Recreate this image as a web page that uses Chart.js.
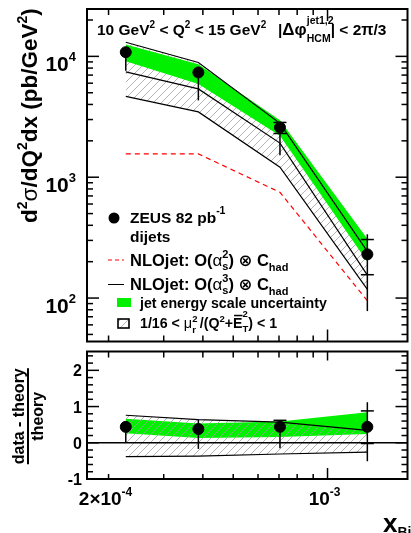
<!DOCTYPE html>
<html>
<head>
<meta charset="utf-8">
<script src="https://cdn.jsdelivr.net/npm/chart.js@4/dist/chart.umd.min.js"></script>
<style>
  html, body { margin: 0; padding: 0; background: #fff; overflow: hidden; }
  #wrap { position: relative; width: 411px; height: 533px; overflow: hidden; }
  canvas { position: absolute; left: 0; }
  #top { top: 0; }
  #bot { top: 345px; }
</style>
</head>
<body>
<div id="wrap">
  <canvas id="top" width="414" height="348"></canvas>
  <canvas id="bot" width="414" height="188"></canvas>
</div>
<script>
(function () {
    "use strict";

    // data
    const xBj = [2.27e-4, 3.87e-4, 7.05e-4, 1.34e-3];

    const zeus = [10830, 7360, 2580, 230];
    const zeusTotLo = [7590, 4320, 1520, 78];
    const zeusTotHi = [11600, 7900, 2840, 337];
    const zeusStatLo = [null, null, 2300, 156];
    const zeusStatHi = [null, null, 2840, 305];

    const nloAs2 = [1560, 1560, 750, 95];
    const nloAs3 = [7450, 5380, 1915, 155];
    const nloScaleHi = [13090, 8890, 2790, 243];
    const nloScaleLo = [4660, 3470, 1210, 118];
    const jesHi = [12530, 8600, 2965, 309];
    const jesLo = [9100, 5900, 2200, 200];

    const ratio = [0.44, 0.38, 0.44, 0.44];
    const ratioTotLo = [0.0, -0.17, -0.15, -0.51];
    const ratioTotHi = [0.56, 0.64, 0.62, 1.12];
    const ratioStatLo = [null, null, null, -0.02];
    const ratioStatHi = [null, null, 0.62, 0.88];
    const ratioJesHi = [0.66, 0.53, 0.59, 0.84];
    const ratioJesLo = [0.26, 0.13, 0.16, 0.24];
    const ratioScaleHi = [0.76, 0.64, 0.57, 0.34];
    const ratioScaleLo = [-0.38, -0.37, -0.31, -0.26];

    const yTopTicks = [100, 1000, 10000];
    const yTopExp = ["2", "3", "4"];
    const yRatioTicks = [2, 1, 0, -1];

    const xRange = [1.707e-4, 1.8e-3];
    const yRange = [43.7, 24660];
    const rRange = [-1, 2.52];

    const GREEN = "#00f000";
    const fam = '"Liberation Sans", Arial, "DejaVu Sans", sans-serif';
    const font = (s, w) => (w || "bold") + " " + s + "px " + fam;

    const pts = (ys) => xBj.map((x, i) => ({ x: x, y: ys[i] }));

    function hatch(ctx) {
        const c = document.createElement("canvas");
        c.width = 8; c.height = 8;
        const g = c.getContext("2d");
        g.strokeStyle = "#a0a0a0";
        g.lineWidth = 0.8;
        g.beginPath();
        g.moveTo(0, 8); g.lineTo(8, 0);
        g.moveTo(-4, 4); g.lineTo(4, -4);
        g.moveTo(4, 12); g.lineTo(12, 4);
        g.stroke();
        return ctx.createPattern(c, "repeat");
    }

    function line(ctx, x1, y1, x2, y2) {
        ctx.beginPath();
        ctx.moveTo(x1, y1);
        ctx.lineTo(x2, y2);
        ctx.stroke();
    }

    // text with super/subscripts: parts {t, s, dy, w, keep, bar}
    function rich(ctx, x, y, parts, measureOnly) {
        const x0 = x;
        parts.forEach(p => {
            ctx.font = font(p.s, p.w);
            const w = ctx.measureText(p.t).width;
            if (!measureOnly) {
                ctx.fillText(p.t, x, y + (p.dy || 0));
                if (p.bar) ctx.fillRect(x + 1, y + (p.dy || 0) - p.s * 0.72 - 3, w - 1, 1.5);
            }
            if (!p.keep) x += w;
        });
        return x - x0;
    }

    function logVals(min, max) {
        const out = [];
        for (let e = -6; e <= 6; e++) {
            for (let m = 1; m <= 9; m++) {
                const v = m * Math.pow(10, e);
                if (v >= min && v <= max) out.push([v, m === 1]);
            }
        }
        return out;
    }

    function drawErrors(chart, lo, hi, sLo, sHi) {
        const { ctx, scales: { x, y } } = chart;
        ctx.save();
        ctx.strokeStyle = "#000";
        ctx.lineWidth = 1.5;
        xBj.forEach((xv, i) => {
            const px = x.getPixelForValue(xv);
            line(ctx, px, y.getPixelForValue(lo[i]), px, y.getPixelForValue(hi[i]));
            [sLo[i], sHi[i]].forEach(v => {
                if (v !== null) {
                    const py = y.getPixelForValue(v);
                    line(ctx, px - 6.5, py, px + 6.5, py);
                }
            });
        });
        ctx.restore();
    }

    function xTicks(ctx, x, a, topLen, botLen) {
        logVals(xRange[0], xRange[1]).forEach(([v, major]) => {
            const px = x.getPixelForValue(v);
            line(ctx, px, a.top, px, a.top + (major ? topLen[1] : topLen[0]));
            line(ctx, px, a.bottom, px, a.bottom - (major ? botLen[1] : botLen[0]));
        });
    }

    const topDeco = {
        id: "topDeco",
        afterDatasetsDraw(chart) {
            drawErrors(chart, zeusTotLo, zeusTotHi, zeusStatLo, zeusStatHi);
        },
        afterDraw(chart) {
            const { ctx, chartArea: a, scales: { x, y } } = chart;
            ctx.save();
            ctx.strokeStyle = "#000";
            ctx.fillStyle = "#000";
            ctx.lineWidth = 1.5;

            // ticks
            logVals(yRange[0], yRange[1]).forEach(([v, major]) => {
                const py = y.getPixelForValue(v);
                const len = major ? 12 : 6;
                line(ctx, a.left, py, a.left + len, py);
                line(ctx, a.right, py, a.right - len, py);
            });
            xTicks(ctx, x, a, [6, 12], [6, 12]);

            ctx.lineWidth = 2;
            ctx.strokeRect(a.left, a.top, a.right - a.left, a.bottom - a.top);

            // y tick labels
            ctx.textBaseline = "alphabetic";
            yTopTicks.forEach((v, i) => {
                const py = y.getPixelForValue(v);
                const parts = [{ t: "10", s: 21 }, { t: yTopExp[i], s: 13, dy: -9.5 }];
                const w = rich(ctx, 0, 0, parts, true);
                rich(ctx, 76 - w, py + 14.5, parts);
            });

            // y title
            ctx.save();
            ctx.translate(37, 223);
            ctx.rotate(-Math.PI / 2);
            rich(ctx, 0, 0, [
                { t: "d", s: 22.5 }, { t: "2", s: 14, dy: -10 }, { t: "\u03c3", s: 22.5, w: "normal" },
                { t: "/dQ", s: 22.5 }, { t: "2", s: 14, dy: -10 }, { t: "dx (pb/GeV", s: 22.5 },
                { t: "2", s: 14, dy: -10 }, { t: ")", s: 22.5 }
            ]);
            ctx.restore();

            // header
            rich(ctx, 97, 35, [
                { t: "10 GeV", s: 15.5 }, { t: "2", s: 10, dy: -7.5 }, { t: " < Q", s: 15.5 },
                { t: "2", s: 10, dy: -7.5 }, { t: " < 15 GeV", s: 15.5 }, { t: "2", s: 10, dy: -7.5 }
            ]);
            rich(ctx, 278, 35, [
                { t: "|", s: 15.5 }, { t: "\u0394\u03c6", s: 17, w: "bold" },
                { t: "jet1,2", s: 10.5, dy: -11, keep: true }, { t: "HCM", s: 10.5, dy: 7 },
                { t: "| < 2", s: 15.5 }, { t: "\u03c0", s: 16, w: "bold" }, { t: "/3", s: 15.5 }
            ]);

            // legend
            ctx.beginPath();
            ctx.arc(114, 218, 5.5, 0, Math.PI * 2);
            ctx.fill();
            rich(ctx, 130, 223, [{ t: "ZEUS 82 pb", s: 15.5 }, { t: "-1", s: 10.5, dy: -9 }]);
            rich(ctx, 130, 242, [{ t: "dijets", s: 15.5 }]);

            ctx.lineWidth = 1;
            ctx.strokeStyle = "#ff0000";
            ctx.setLineDash([4, 3]);
            line(ctx, 108, 260, 124, 260);
            ctx.setLineDash([]);
            ctx.strokeStyle = "#000";
            line(ctx, 108, 284.5, 124, 284.5);
            const nloParts = (n) => [
                { t: "NLOjet: O(", s: 16.5 }, { t: "\u03b1", s: 17, w: "normal" },
                { t: n, s: 11, dy: -7.5, keep: true }, { t: "s", s: 11, dy: 4 },
                { t: ") \u2297 C", s: 16.5 }, { t: "had", s: 11, dy: 5 }
            ];
            rich(ctx, 130, 265.5, nloParts("2"));
            rich(ctx, 130, 289.5, nloParts("3"));

            ctx.fillStyle = GREEN;
            ctx.fillRect(117, 298, 14, 9);
            ctx.fillStyle = "#000";
            rich(ctx, 140, 307.5, [{ t: "jet energy scale uncertainty", s: 14.2 }]);

            ctx.fillStyle = hatch(ctx);
            ctx.fillRect(118, 319, 11, 9);
            ctx.lineWidth = 1.6;
            ctx.strokeRect(118, 319, 11, 9);
            ctx.fillStyle = "#000";
            rich(ctx, 140, 328, [
                { t: "1/16 < ", s: 14.2 }, { t: "\u03bc", s: 14.5, w: "normal" },
                { t: "2", s: 9.5, dy: -6.5, keep: true }, { t: "r", s: 9.5, dy: 5 },
                { t: " /(Q", s: 14.2 }, { t: "2", s: 9.5, dy: -6.5 }, { t: "+", s: 14.2 },
                { t: "E", s: 14.2, bar: true }, { t: "2", s: 9.5, dy: -11, keep: true },
                { t: "T", s: 9.5, dy: 4 }, { t: ") < 1", s: 14.2 }
            ]);
            ctx.restore();
        }
    };

    const botDeco = {
        id: "botDeco",
        afterDatasetsDraw(chart) {
            const { ctx, chartArea: a, scales: { y } } = chart;
            ctx.save();
            ctx.strokeStyle = "#000";
            ctx.lineWidth = 1.5;
            const y0 = y.getPixelForValue(0);
            line(ctx, a.left, y0, a.right, y0);
            ctx.restore();
            drawErrors(chart, ratioTotLo, ratioTotHi, ratioStatLo, ratioStatHi);
        },
        afterDraw(chart) {
            const { ctx, chartArea: a, scales: { x, y } } = chart;
            ctx.save();
            ctx.strokeStyle = "#000";
            ctx.fillStyle = "#000";
            ctx.lineWidth = 1.5;

            for (let k = -5; k <= 12; k++) {
                const v = k / 5;
                if (v < rRange[0] || v > rRange[1]) continue;
                const py = y.getPixelForValue(v);
                const len = k % 5 === 0 ? 12 : 6;
                line(ctx, a.left, py, a.left + len, py);
                line(ctx, a.right, py, a.right - len, py);
            }
            xTicks(ctx, x, a, [6, 9], [5, 11]);

            ctx.lineWidth = 2;
            ctx.strokeRect(a.left, a.top, a.right - a.left, a.bottom - a.top);

            // y tick labels
            ctx.font = font(16);
            ctx.textAlign = "right";
            yRatioTicks.forEach(v => {
                ctx.fillText(String(v), 82, y.getPixelForValue(v) + 6);
            });
            ctx.textAlign = "left";

            // x tick labels
            const lab1 = [{ t: "2\u00d710", s: 19 }, { t: "-4", s: 12, dy: -9 }];
            const lab2 = [{ t: "10", s: 19 }, { t: "-3", s: 12, dy: -9 }];
            [[2e-4, lab1], [1e-3, lab2]].forEach(([v, parts]) => {
                const w = rich(ctx, 0, 0, parts, true);
                rich(ctx, x.getPixelForValue(v) - 3 - w / 2, a.bottom + 26, parts);
            });

            // x title
            rich(ctx, 383, a.bottom + 52.5, [{ t: "x", s: 26 }, { t: "Bj", s: 14, dy: 5 }]);

            // y title as a fraction
            const cy = (a.top + a.bottom) / 2 + 1;
            ctx.save();
            ctx.translate(0, cy);
            ctx.rotate(-Math.PI / 2);
            ctx.font = font(16);
            ctx.textAlign = "center";
            const wNum = ctx.measureText("data - theory").width;
            ctx.fillText("data - theory", 0, 24);
            ctx.fillRect(-wNum / 2, 27, wNum, 2);
            ctx.fillText("theory", 0, 43);
            ctx.restore();
            ctx.restore();
        }
    };

    const baseOpts = (yType, yr, pad) => ({
        responsive: false,
        animation: false,
        devicePixelRatio: 1,
        layout: { padding: pad },
        plugins: { legend: { display: false }, tooltip: { enabled: false } },
        scales: {
            x: { type: "logarithmic", display: false, min: xRange[0], max: xRange[1] },
            y: { type: yType, display: false, min: yr[0], max: yr[1] }
        }
    });

    const ln = (data, color, extra) => Object.assign({
        data: data, borderColor: color, borderWidth: 1.2, pointRadius: 0,
        tension: 0, fill: false
    }, extra || {});

    const topCtx = document.getElementById("top").getContext("2d");
    new Chart(topCtx, {
        type: "line",
        data: {
            datasets: [
                { data: pts(zeus), showLine: false, pointRadius: 5.5, pointBackgroundColor: "#000",
                  pointBorderColor: "#000", order: 0 },
                ln(pts(nloAs2), "#ff0000", { borderDash: [5, 4], order: 1 }),
                ln(pts(nloAs3), "#000", { order: 2 }),
                ln(pts(nloScaleHi), "#000", { order: 2 }),
                ln(pts(nloScaleLo), "#000", { order: 2 }),
                ln(pts(jesHi), "transparent", { borderWidth: 0, fill: 6, backgroundColor: GREEN, order: 3 }),
                ln(pts(jesLo), "transparent", { borderWidth: 0, order: 3 }),
                ln(pts(nloScaleHi), "transparent", { borderWidth: 0, fill: 8, backgroundColor: hatch(topCtx), order: 4 }),
                ln(pts(nloScaleLo), "transparent", { borderWidth: 0, order: 4 })
            ]
        },
        options: baseOpts("logarithmic", yRange, { left: 87, top: 9, right: 2, bottom: 2 }),
        plugins: [topDeco]
    });

    const botCtx = document.getElementById("bot").getContext("2d");
    new Chart(botCtx, {
        type: "line",
        data: {
            datasets: [
                { data: pts(ratio), showLine: false, pointRadius: 5.5, pointBackgroundColor: "#000",
                  pointBorderColor: "#000", order: 0 },
                ln(pts(ratioScaleHi), "#000", { order: 1 }),
                ln(pts(ratioScaleLo), "#000", { order: 1 }),
                ln(pts(ratioScaleHi), "transparent", { borderWidth: 0, fill: 4, backgroundColor: hatch(botCtx), order: 2 }),
                ln(pts(ratioScaleLo), "transparent", { borderWidth: 0, order: 2 }),
                ln(pts(ratioJesHi), "transparent", { borderWidth: 0, fill: 6, backgroundColor: GREEN, order: 3 }),
                ln(pts(ratioJesLo), "transparent", { borderWidth: 0, order: 3 })
            ]
        },
        options: baseOpts("linear", rRange, { left: 87, top: 1, right: 2, bottom: 54 }),
        plugins: [botDeco]
    });
})();
</script>
</body>
</html>
